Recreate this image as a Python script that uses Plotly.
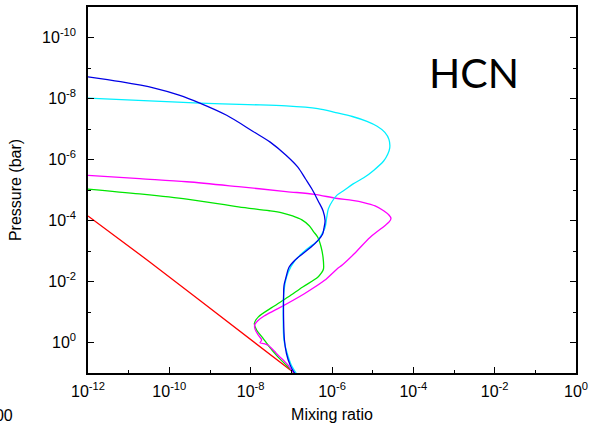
import numpy as np
import plotly.graph_objects as go

# log10(mixing ratio) and log10(pressure / bar)
blue_lx = [-12, -11.20, -10.37, -9.76, -9.25, -8.59, -7.94, -7.52, -7.13, -6.84, -6.65, -6.48, -6.34, -6.22, -6.17,
           -6.20, -6.23, -6.35, -6.52, -6.72, -6.92, -7.06, -7.13, -7.18, -7.19, -7.19, -7.17, -7.12, -7.03, -6.92]
blue_lp = [-8.71, -8.55, -8.34, -8.11, -7.85, -7.45, -6.92, -6.57, -6.14, -5.75, -5.36, -5.00, -4.64, -4.32, -3.99,
           -3.73, -3.56, -3.34, -3.12, -2.91, -2.69, -2.46, -2.14, -1.87, -1.54, -0.73, -0.08, 0.36, 0.74, 1.01]

cyan_lx = [-12, -10.49, -9.25, -8.06, -7.13, -6.35, -5.91, -5.50, -5.14, -4.89, -4.70, -4.60, -4.58, -4.63, -4.73,
           -4.97, -5.22, -5.48, -5.70, -5.87, -5.99, -6.09, -6.13, -6.17, -6.26, -6.35, -6.60, -6.84, -7.01, -7.12,
           -7.18, -7.20, -7.18, -7.11, -7.01, -6.88]
cyan_lp = [-8.01, -7.92, -7.85, -7.80, -7.76, -7.67, -7.54, -7.41, -7.25, -7.09, -6.89, -6.66, -6.38, -6.17, -5.95,
           -5.65, -5.40, -5.20, -4.99, -4.84, -4.64, -4.38, -4.10, -3.77, -3.53, -3.34, -3.08, -2.79, -2.49, -2.14,
           -1.71, -0.73, -0.08, 0.32, 0.71, 1.01]

magenta_lx = [-12, -10.73, -9.57, -8.30, -7.13, -6.43, -5.91, -5.50, -5.22, -4.94, -4.73, -4.60, -4.55, -4.59, -4.70,
              -5.06, -5.46, -5.74, -5.87, -6.19, -6.68, -7.33, -7.67, -7.81, -7.90, -7.89, -7.81, -7.73, -7.77, -7.67,
              -7.57, -7.42, -7.33, -7.16, -7.08, -7.00, -6.92]
magenta_lp = [-5.48, -5.37, -5.27, -5.11, -4.95, -4.86, -4.73, -4.66, -4.59, -4.48, -4.32, -4.18, -4.07, -3.96, -3.83,
              -3.45, -2.90, -2.55, -2.42, -2.03, -1.60, -1.11, -0.87, -0.73, -0.58, -0.43, -0.24, -0.08, 0.01, 0.04,
              0.09, 0.28, 0.41, 0.63, 0.74, 0.90, 1.01]

green_lx = [-12, -10.73, -9.57, -8.30, -7.54, -7.23, -6.97, -6.74, -6.56, -6.45, -6.35, -6.27, -6.22, -6.21, -6.26,
            -6.35, -6.72, -7.08, -7.45, -7.81, -7.91, -7.85, -7.69, -7.57, -7.33, -7.00, -6.92]
green_lp = [-5.03, -4.87, -4.70, -4.45, -4.32, -4.25, -4.15, -4.02, -3.83, -3.63, -3.45, -3.14, -2.79, -2.41, -2.28,
            -2.14, -1.82, -1.49, -1.17, -0.84, -0.62, -0.40, -0.13, 0.09, 0.47, 0.90, 1.01]

red_lx = [-12, -10.49, -9.27, -8.30, -6.96]
red_lp = [-4.15, -2.65, -1.40, -0.40, 0.97]

x_major = [-12, -10, -8, -6, -4, -2, 0]
x_minor = [-11, -9, -7, -5, -3, -1]
y_major = [-10, -8, -6, -4, -2, 0]
y_minor = [-11, -9, -7, -5, -3, -1]

series = [
    ("red", red_lx, red_lp, "#ff0000", "linear"),
    ("green", green_lx, green_lp, "#00e600", "spline"),
    ("magenta", magenta_lx, magenta_lp, "#ff00ff", "spline"),
    ("cyan", cyan_lx, cyan_lp, "#00f0ff", "spline"),
    ("blue", blue_lx, blue_lp, "#0000e6", "spline"),
]

fig = go.Figure()
for name, lx, lp, col, shp in series:
    line = dict(color=col, width=1.3, shape=shp)
    if shp == "spline":
        line["smoothing"] = 0.9
    fig.add_trace(go.Scatter(
        x=np.power(10.0, lx), y=np.power(10.0, lp), mode="lines",
        line=line, name=name, showlegend=False))

def sup_labels(vals):
    return ["10<sup>%d</sup>" % v for v in vals]

fam = "Liberation Sans, Arial, sans-serif"
tick_font = dict(family=fam, size=16, color="black")
title_font = dict(family=fam, size=16, color="black")

fig.update_layout(
    width=593, height=429,
    margin=dict(l=88, r=12, t=5, b=56),
    paper_bgcolor="white", plot_bgcolor="white",
    font=tick_font,
    xaxis=dict(
        type="log", range=[-12, 0],
        showgrid=False, zeroline=False,
        showline=True, linecolor="black", linewidth=1.5, mirror=True,
        ticks="inside", ticklen=6, tickwidth=1, tickcolor="black",
        tickvals=[10.0 ** v for v in x_major], ticktext=sup_labels(x_major),
        tickfont=tick_font, ticklabeloverflow="allow",
        minor=dict(tickvals=[10.0 ** v for v in x_minor], ticks="inside", ticklen=3, tickcolor="black", showgrid=False),
        ticklabelstandoff=3,
        title=dict(text="Mixing ratio", font=title_font, standoff=10),
    ),
    yaxis=dict(
        type="log", range=[1, -11],
        showgrid=False, zeroline=False,
        showline=True, linecolor="black", linewidth=1.5, mirror="allticks",
        ticks="inside", ticklen=6, tickwidth=1, tickcolor="black",
        tickvals=[10.0 ** v for v in y_major], ticktext=sup_labels(y_major),
        tickfont=tick_font,
        minor=dict(tickvals=[10.0 ** v for v in y_minor], ticks="inside", ticklen=3, tickcolor="black", showgrid=False),
        ticklabelstandoff=7,
        title=dict(text="Pressure (bar)", font=title_font, standoff=16),
    ),
    annotations=[
        dict(text="HCN", x=0.79, y=0.82, xref="paper", yref="paper", xanchor="center", yanchor="middle",
             showarrow=False, font=dict(family="Lato, Open Sans, sans-serif", size=41, color="black")),
        dict(text="100", x=-74 / 493, y=-43 / 368, xref="paper", yref="paper",
             xanchor="right", yanchor="middle", showarrow=False, font=title_font),
    ],
)

fig.write_html("out.html")
